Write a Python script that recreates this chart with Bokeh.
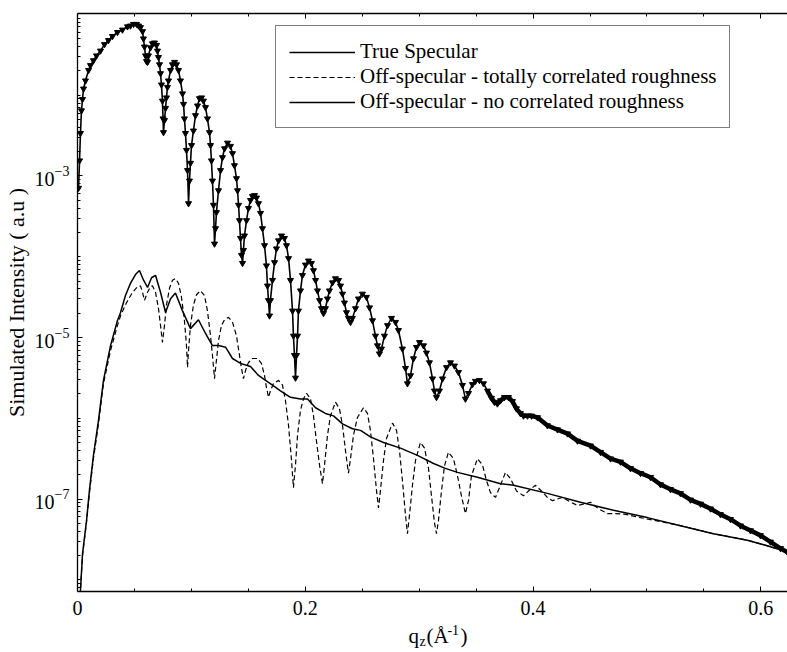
import numpy as np
from bokeh.plotting import figure
from bokeh.layouts import column
from bokeh.models import (Range1d, FixedTicker, LinearAxis, Legend, LegendItem,
                          CustomJSTickFormatter, ColumnDataSource)
from bokeh.core.properties import value
from bokeh.embed import file_html
from bokeh.resources import INLINE

# ---------------- data (q in 1/Angstrom, log10 of intensity) ----------------
spec_q = [
    0.0009, 0.0018, 0.0026, 0.0035, 0.0044, 0.0053, 0.0070, 0.0097, 0.0114, 0.0140,
    0.0167, 0.0202, 0.0237, 0.0272, 0.0307, 0.0351, 0.0395, 0.0439, 0.0465, 0.0492,
    0.0518, 0.0536, 0.0553, 0.0571, 0.0579, 0.0588, 0.0597, 0.0606, 0.0615, 0.0623,
    0.0641, 0.0658, 0.0676, 0.0694, 0.0702, 0.0711, 0.0720, 0.0729, 0.0737, 0.0746,
    0.0751, 0.0755, 0.0764, 0.0773, 0.0781, 0.0790, 0.0799, 0.0817, 0.0834, 0.0852,
    0.0869, 0.0887, 0.0904, 0.0922, 0.0931, 0.0939, 0.0948, 0.0957, 0.0966, 0.0975,
    0.0983, 0.0992, 0.1001, 0.1018, 0.1036, 0.1054, 0.1071, 0.1089, 0.1106, 0.1124,
    0.1141, 0.1159, 0.1168, 0.1176, 0.1185, 0.1194, 0.1203, 0.1212, 0.1220, 0.1238,
    0.1256, 0.1273, 0.1291, 0.1317, 0.1343, 0.1361, 0.1378, 0.1396, 0.1405, 0.1414,
    0.1422, 0.1431, 0.1440, 0.1449, 0.1457, 0.1466, 0.1484, 0.1501, 0.1519, 0.1536,
    0.1554, 0.1572, 0.1589, 0.1607, 0.1624, 0.1642, 0.1659, 0.1668, 0.1677, 0.1686,
    0.1694, 0.1712, 0.1730, 0.1747, 0.1765, 0.1791, 0.1817, 0.1835, 0.1853, 0.1870,
    0.1888, 0.1896, 0.1905, 0.1914, 0.1923, 0.1932, 0.1940, 0.1958, 0.1975, 0.2002,
    0.2028, 0.2054, 0.2072, 0.2090, 0.2107, 0.2125, 0.2142, 0.2160, 0.2177, 0.2195,
    0.2212, 0.2239, 0.2265, 0.2292, 0.2309, 0.2327, 0.2344, 0.2362, 0.2379, 0.2397,
    0.2414, 0.2441, 0.2467, 0.2502, 0.2537, 0.2564, 0.2590, 0.2616, 0.2634, 0.2651,
    0.2669, 0.2695, 0.2722, 0.2757, 0.2792, 0.2818, 0.2853, 0.2880, 0.2897, 0.2924,
    0.2950, 0.2976, 0.3003, 0.3038, 0.3064, 0.3090, 0.3117, 0.3134, 0.3152, 0.3178,
    0.3205, 0.3240, 0.3275, 0.3310, 0.3345, 0.3380, 0.3406, 0.3433, 0.3468, 0.3494,
    0.3529, 0.3565, 0.3600, 0.3635, 0.3661, 0.3687, 0.3714, 0.3749, 0.3784, 0.3819,
    0.3854, 0.3889, 0.3916, 0.3951, 0.3986, 0.4039, 0.4126, 0.4214, 0.4302, 0.4390,
    0.4504, 0.4592, 0.4680, 0.4767, 0.4855, 0.4943, 0.5031, 0.5119, 0.5206, 0.5294,
    0.5382, 0.5470, 0.5558, 0.5645, 0.5733, 0.5821, 0.5909, 0.5996, 0.6084, 0.6172, 0.6234,
]
spec_log = [
    -3.15, -2.81, -2.47, -2.19, -2.05, -1.92, -1.82, -1.69, -1.63, -1.57,
    -1.51, -1.45, -1.37, -1.32, -1.27, -1.22, -1.19, -1.15, -1.14, -1.12,
    -1.12, -1.14, -1.16, -1.21, -1.30, -1.40, -1.51, -1.58, -1.59, -1.51,
    -1.41, -1.36, -1.35, -1.38, -1.45, -1.53, -1.62, -1.73, -1.87, -2.07,
    -2.29, -2.46, -2.31, -2.16, -2.03, -1.90, -1.82, -1.69, -1.62, -1.59,
    -1.62, -1.69, -1.82, -1.98, -2.11, -2.29, -2.47, -2.68, -2.93, -3.34,
    -3.06, -2.84, -2.62, -2.44, -2.25, -2.13, -2.04, -2.03, -2.07, -2.15,
    -2.29, -2.46, -2.62, -2.81, -3.06, -3.36, -3.84, -3.65, -3.45, -3.18,
    -2.93, -2.77, -2.66, -2.59, -2.63, -2.72, -2.87, -3.03, -3.18, -3.36,
    -3.55, -3.77, -3.98, -4.08, -3.92, -3.74, -3.55, -3.40, -3.30, -3.25,
    -3.24, -3.27, -3.34, -3.46, -3.65, -3.86, -4.11, -4.36, -4.54, -4.73,
    -4.54, -4.29, -4.07, -3.90, -3.80, -3.74, -3.77, -3.86, -4.02, -4.29,
    -4.67, -4.98, -5.22, -5.50, -5.22, -4.98, -4.67, -4.42, -4.23, -4.10,
    -4.05, -4.08, -4.17, -4.29, -4.42, -4.54, -4.64, -4.70, -4.64, -4.52,
    -4.42, -4.32, -4.27, -4.29, -4.36, -4.46, -4.57, -4.69, -4.76, -4.81,
    -4.76, -4.64, -4.52, -4.46, -4.50, -4.63, -4.79, -4.98, -5.10, -5.20,
    -5.14, -4.98, -4.85, -4.76, -4.81, -4.91, -5.14, -5.38, -5.57, -5.47,
    -5.26, -5.12, -5.06, -5.10, -5.19, -5.31, -5.51, -5.66, -5.74, -5.66,
    -5.51, -5.37, -5.31, -5.35, -5.43, -5.59, -5.76, -5.69, -5.58, -5.54,
    -5.53, -5.57, -5.66, -5.75, -5.80, -5.82, -5.78, -5.74, -5.74, -5.79,
    -5.88, -5.94, -5.97, -5.97, -5.97, -5.99, -6.09, -6.14, -6.19, -6.28,
    -6.34, -6.42, -6.50, -6.54, -6.62, -6.68, -6.73, -6.82, -6.88, -6.93,
    -7.01, -7.06, -7.12, -7.19, -7.25, -7.33, -7.39, -7.45, -7.53, -7.61, -7.66,
]

corr_q = [
    0.0009, 0.0026, 0.0044, 0.0079, 0.0105, 0.0140, 0.0184, 0.0228, 0.0290, 0.0351,
    0.0378, 0.0430, 0.0483, 0.0527, 0.0553, 0.0571, 0.0588, 0.0615, 0.0641, 0.0658,
    0.0685, 0.0711, 0.0729, 0.0746, 0.0764, 0.0781, 0.0808, 0.0834, 0.0860, 0.0887,
    0.0913, 0.0939, 0.0957, 0.0966, 0.0975, 0.0992, 0.1018, 0.1045, 0.1080, 0.1115,
    0.1141, 0.1168, 0.1185, 0.1203, 0.1220, 0.1238, 0.1264, 0.1291, 0.1326, 0.1361,
    0.1396, 0.1422, 0.1440, 0.1457, 0.1475, 0.1501, 0.1536, 0.1580, 0.1615, 0.1642,
    0.1659, 0.1677, 0.1694, 0.1721, 0.1765, 0.1800, 0.1826, 0.1853, 0.1879, 0.1896,
    0.1914, 0.1932, 0.1958, 0.1984, 0.2011, 0.2046, 0.2072, 0.2098, 0.2125, 0.2151,
    0.2169, 0.2195, 0.2221, 0.2265, 0.2300, 0.2327, 0.2353, 0.2379, 0.2397, 0.2423,
    0.2458, 0.2511, 0.2546, 0.2572, 0.2599, 0.2625, 0.2643, 0.2660, 0.2687, 0.2713,
    0.2766, 0.2801, 0.2827, 0.2853, 0.2880, 0.2897, 0.2915, 0.2941, 0.2968, 0.3011,
    0.3047, 0.3082, 0.3108, 0.3134, 0.3152, 0.3169, 0.3196, 0.3222, 0.3257, 0.3301,
    0.3336, 0.3371, 0.3406, 0.3433, 0.3459, 0.3512, 0.3556, 0.3591, 0.3626, 0.3670,
    0.3705, 0.3758, 0.3802, 0.3855, 0.3916, 0.3960, 0.4021, 0.4074, 0.4126, 0.4170,
    0.4214, 0.4258, 0.4319, 0.4390, 0.4451, 0.4504, 0.4574, 0.4653, 0.4723, 0.4811,
    0.4943, 0.5119, 0.5294, 0.5584, 0.5882, 0.6084, 0.6200, 0.6234,
]
corr_log = [
    -8.40, -8.13, -7.70, -7.29, -6.92, -6.50, -6.07, -5.57, -5.16, -4.85,
    -4.73, -4.57, -4.44, -4.37, -4.36, -4.44, -4.54, -4.44, -4.37, -4.36,
    -4.44, -4.64, -4.85, -5.06, -4.85, -4.60, -4.39, -4.29, -4.27, -4.33,
    -4.50, -4.79, -5.10, -5.37, -5.16, -4.85, -4.60, -4.47, -4.42, -4.48,
    -4.67, -4.98, -5.22, -5.51, -5.28, -5.04, -4.85, -4.78, -4.75, -4.81,
    -4.98, -5.22, -5.38, -5.51, -5.41, -5.31, -5.26, -5.26, -5.32, -5.47,
    -5.62, -5.74, -5.66, -5.57, -5.53, -5.59, -5.78, -6.09, -6.52, -6.86,
    -6.58, -6.21, -5.90, -5.76, -5.69, -5.76, -5.97, -6.28, -6.58, -6.81,
    -6.58, -6.21, -5.97, -5.80, -5.88, -6.09, -6.40, -6.68, -6.50, -6.21,
    -5.99, -5.87, -5.94, -6.15, -6.50, -6.89, -7.11, -6.89, -6.52, -6.25,
    -6.06, -6.15, -6.40, -6.77, -7.20, -7.43, -7.20, -6.83, -6.52, -6.30,
    -6.37, -6.62, -6.96, -7.29, -7.43, -7.27, -6.90, -6.59, -6.42, -6.50,
    -6.71, -6.96, -7.18, -7.02, -6.71, -6.50, -6.58, -6.77, -6.92, -6.98,
    -6.86, -6.67, -6.75, -6.90, -6.96, -6.90, -6.83, -6.90, -6.98, -7.02,
    -7.00, -6.98, -7.03, -7.08, -7.06, -7.04, -7.12, -7.18, -7.18, -7.19,
    -7.23, -7.28, -7.33, -7.43, -7.51, -7.59, -7.64, -7.66,
]

nocorr_q = [
    0.0009, 0.0026, 0.0044, 0.0079, 0.0105, 0.0140, 0.0184, 0.0228, 0.0290, 0.0351,
    0.0378, 0.0421, 0.0465, 0.0509, 0.0544, 0.0580, 0.0615, 0.0650, 0.0685, 0.0729,
    0.0773, 0.0817, 0.0860, 0.0922, 0.0992, 0.1062, 0.1124, 0.1185, 0.1238, 0.1300,
    0.1361, 0.1431, 0.1519, 0.1589, 0.1651, 0.1712, 0.1782, 0.1870, 0.1958, 0.2020,
    0.2090, 0.2177, 0.2248, 0.2327, 0.2414, 0.2485, 0.2572, 0.2687, 0.2836, 0.2985,
    0.3126, 0.3230, 0.3336, 0.3512, 0.3714, 0.3828, 0.4126, 0.4416, 0.4706, 0.5004,
    0.5294, 0.5584, 0.5882, 0.6084, 0.6200, 0.6234,
]
nocorr_log = [
    -8.40, -8.13, -7.68, -7.27, -6.89, -6.46, -6.03, -5.53, -5.10, -4.79,
    -4.69, -4.48, -4.33, -4.22, -4.17, -4.29, -4.38, -4.26, -4.23, -4.44,
    -4.69, -4.52, -4.45, -4.67, -4.89, -4.78, -4.95, -5.10, -5.10, -5.12,
    -5.26, -5.32, -5.36, -5.47, -5.53, -5.59, -5.66, -5.74, -5.76, -5.76,
    -5.87, -5.94, -5.97, -6.07, -6.13, -6.15, -6.23, -6.30, -6.37, -6.46,
    -6.56, -6.62, -6.67, -6.73, -6.81, -6.83, -6.93, -7.04, -7.14, -7.23,
    -7.33, -7.43, -7.51, -7.59, -7.64, -7.66,
]

legend_labels = ["True Specular",
                 "Off-specular - totally correlated roughness",
                 "Off-specular - no correlated roughness"]
y_title = "Simulated Intensity ( a.u )"
x_title_parts = ["q", "z", "(Å", "-1", ")"]
x_major = [0, 0.2, 0.4, 0.6]
x_minor = [0.05, 0.1, 0.15, 0.25, 0.3, 0.35, 0.45, 0.5, 0.55]
y_major = [1e-7, 1e-5, 1e-3]
y_minor = [k * 10.0 ** d for d in range(-9, -1) for k in range(1, 10)]

# ---------------- figure ----------------
FONT = "Liberation Serif"
x_max = 0.6234
y_lo, y_hi = 10 ** -8.145, 10 ** -0.988
xr = Range1d(0, x_max)

p = figure(width=787, height=622, x_range=xr, y_range=Range1d(y_lo, y_hi),
           y_axis_type="log", output_backend="svg", toolbar_location=None,
           min_border_left=77, min_border_right=0, min_border_top=13, min_border_bottom=31)
p.outline_line_color = None
p.grid.visible = False
p.background_fill_color = "white"
p.border_fill_color = "white"

spec_I = [10 ** v for v in spec_log]
corr_I = [10 ** v for v in corr_log]
nocorr_I = [10 ** v for v in nocorr_log]

src_spec = ColumnDataSource(dict(q=spec_q, I=spec_I))
tail = [(q, i) for q, i in zip(spec_q, spec_I) if q >= 0.36]
src_tail = ColumnDataSource(dict(q=[t[0] for t in tail], I=[t[1] for t in tail]))

r_corr = p.line("q", "I", source=ColumnDataSource(dict(q=corr_q, I=corr_I)),
                line_color="black", line_width=1.2, line_dash="5 3")
r_nocorr = p.line("q", "I", source=ColumnDataSource(dict(q=nocorr_q, I=nocorr_I)),
                  line_color="black", line_width=1.5)
r_spec = p.line("q", "I", source=src_spec, line_color="black", line_width=1.6)
p.line("q", "I", source=src_tail, line_color="black", line_width=4.5)
p.scatter("q", "I", source=src_spec, marker="inverted_triangle", size=6,
          fill_color="black", line_color="black")

# ---------------- axes ----------------
for ax in p.xaxis:
    ax.ticker = FixedTicker(ticks=x_major, minor_ticks=x_minor)
for ax in p.yaxis:
    ax.ticker = FixedTicker(ticks=y_major, minor_ticks=y_minor)

for ax in list(p.xaxis) + list(p.yaxis):
    ax.major_tick_in = 5
    ax.major_tick_out = 0
    ax.minor_tick_in = 3
    ax.minor_tick_out = 0
    ax.axis_line_width = 1.3
    ax.axis_line_color = "black"
    ax.major_tick_line_color = "black"
    ax.minor_tick_line_color = "black"
    ax.major_label_text_font = FONT
    ax.major_label_text_font_size = "20px"
    ax.major_label_text_color = "black"
    ax.axis_label_text_font = FONT
    ax.axis_label_text_font_style = "normal"
    ax.axis_label_text_font_size = "22px"
    ax.axis_label_text_color = "black"

p.xaxis.major_label_standoff = 9
p.yaxis.major_label_standoff = 8
p.yaxis.axis_label = y_title
p.yaxis.axis_label_standoff = 3

top = LinearAxis(ticker=FixedTicker(ticks=x_major, minor_ticks=x_minor),
                 formatter=CustomJSTickFormatter(code="return ''"),
                 major_label_text_font_size="0px", major_label_standoff=0,
                 major_tick_in=5, major_tick_out=0, minor_tick_in=3, minor_tick_out=0,
                 axis_line_width=1.3)
p.add_layout(top, "above")

# ---------------- legend ----------------
legend = Legend(items=[LegendItem(label=legend_labels[0], renderers=[r_spec]),
                       LegendItem(label=legend_labels[1], renderers=[r_corr]),
                       LegendItem(label=legend_labels[2], renderers=[r_nocorr])],
                location=(198, 463), orientation="vertical",
                label_text_font=FONT, label_text_font_size="21px", label_text_color="black",
                glyph_width=66, glyph_height=20, label_height=20, label_standoff=5,
                spacing=-5, padding=13, margin=0,
                border_line_color="black", border_line_width=1.2,
                background_fill_color="white", background_fill_alpha=1.0)
p.add_layout(legend)

# ---------------- x-axis title strip: q_z (Å^-1) with sub/superscript ----------------
p2 = figure(width=787, height=30, x_range=xr, y_range=Range1d(0, 30), title=None,
            output_backend="svg", toolbar_location=None,
            x_axis_location=None, y_axis_location=None,
            min_border_left=77, min_border_right=0, min_border_top=0, min_border_bottom=0)
p2.outline_line_color = None
p2.grid.visible = False
t_q = [0.2906, 0.3003, 0.3064, 0.3248, 0.3363]   # positions along the q axis
t_y = [17, 11, 17, 23, 17]
t_size = ["21px", "14px", "21px", "14px", "21px"]
p2.text(x=t_q, y=t_y, text=x_title_parts, text_font=value(FONT), text_font_size=t_size,
        text_color="black", text_baseline="middle", text_align="left")

layout = column(p, p2, spacing=0)
open("out.html", "w").write(file_html(layout, INLINE))
